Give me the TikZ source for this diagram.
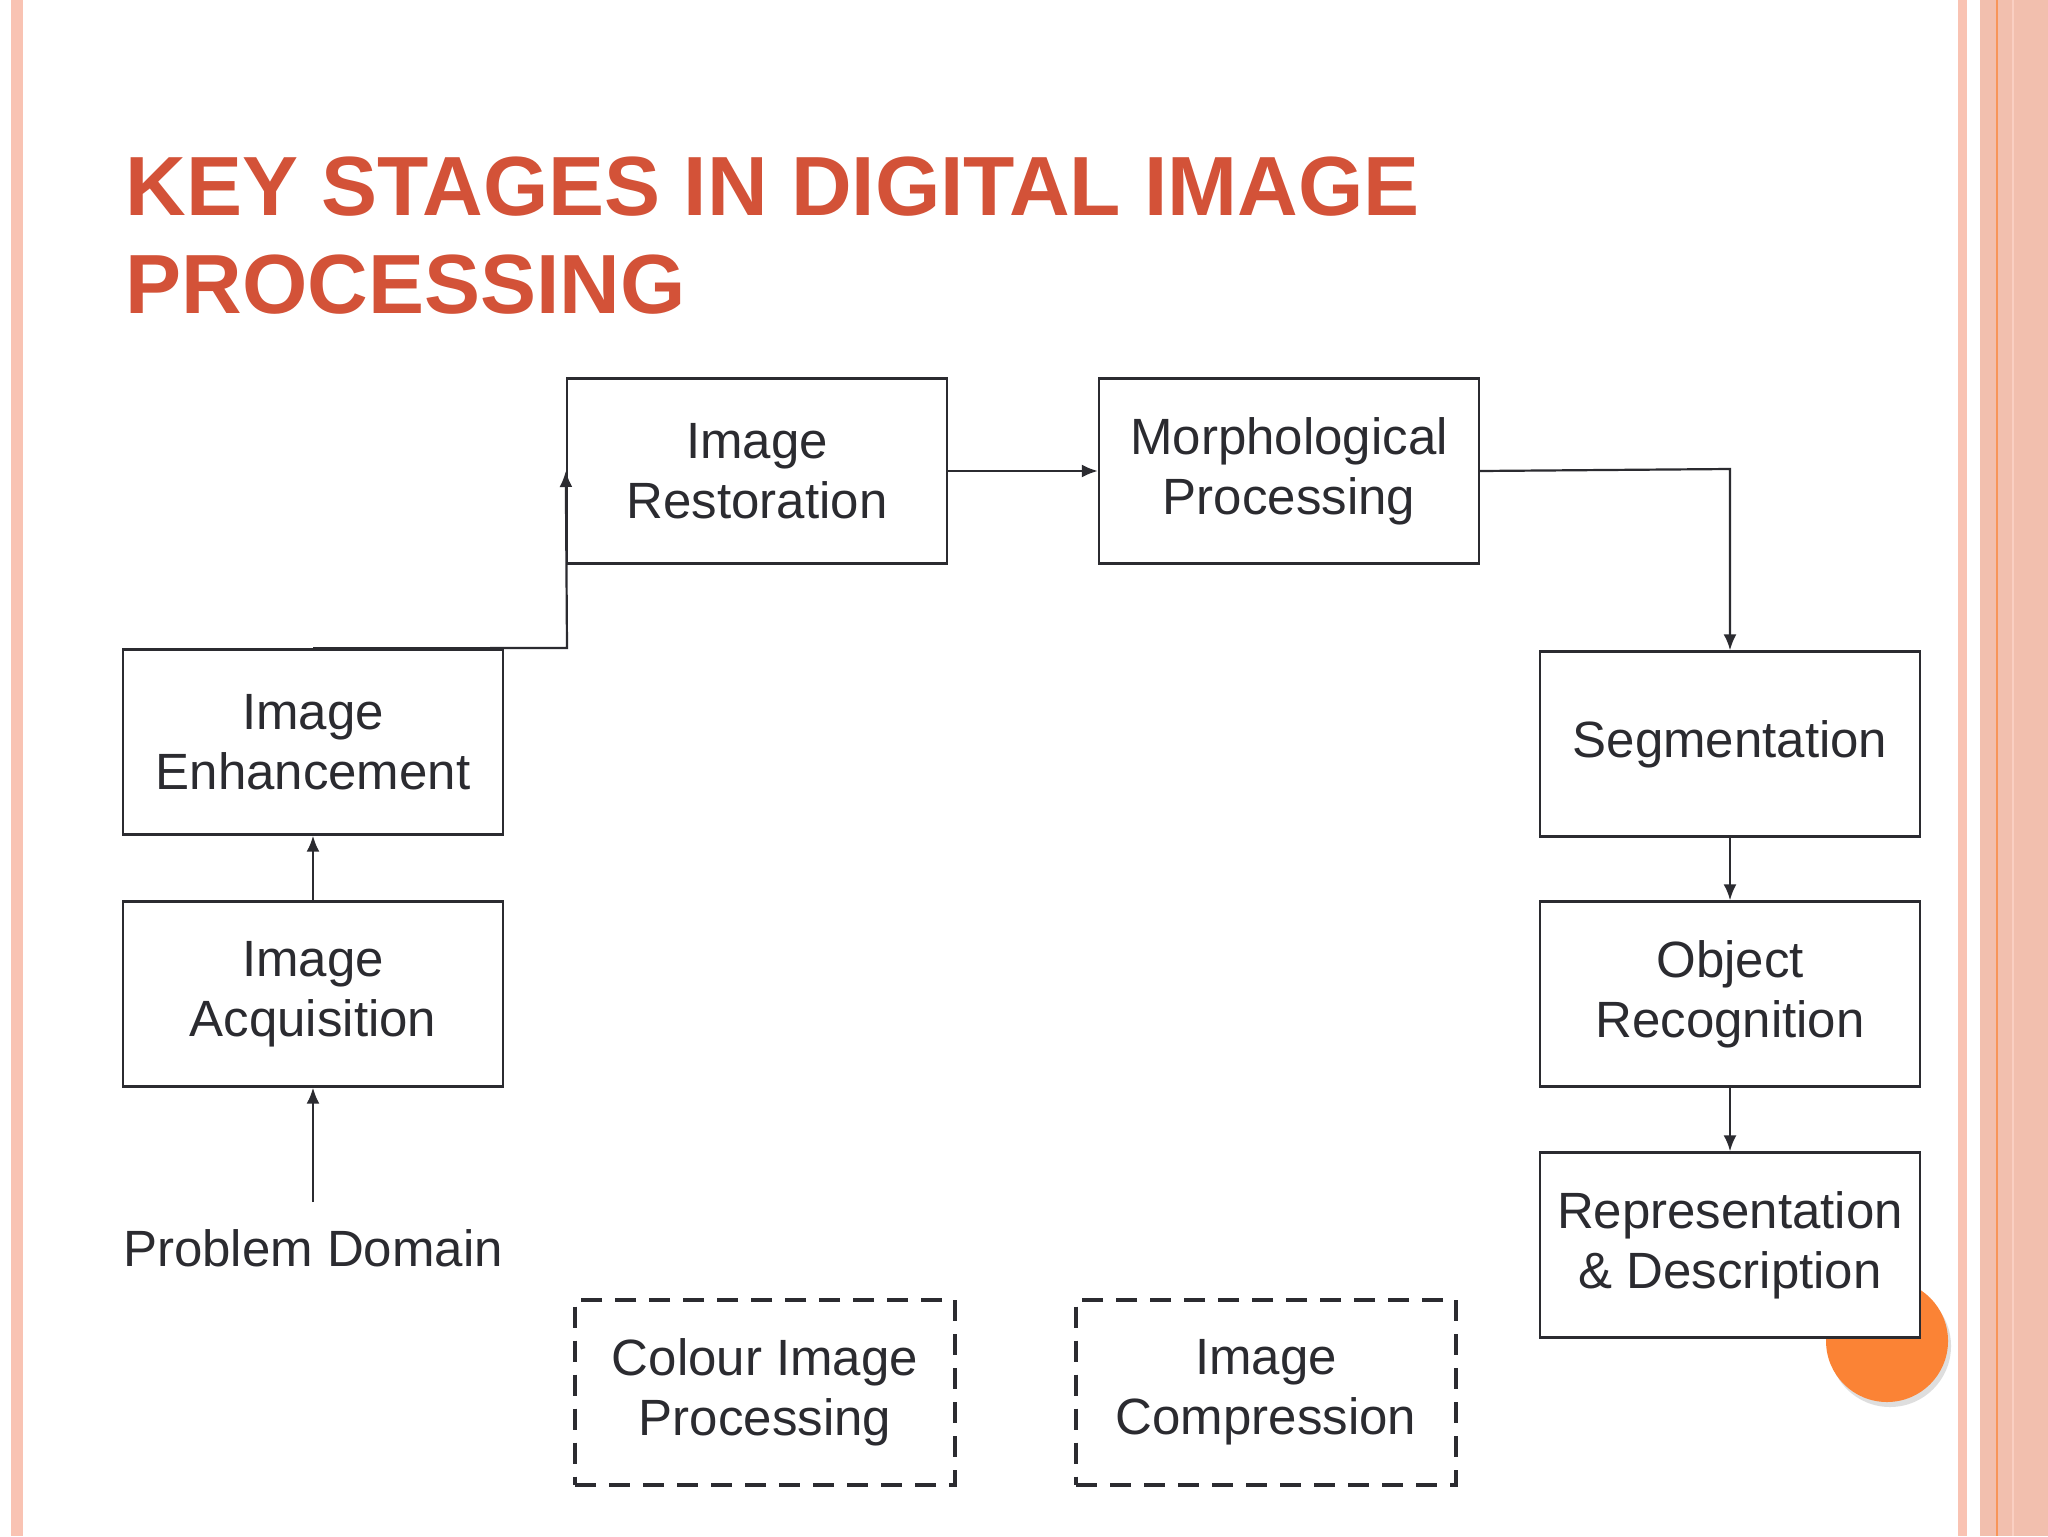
\documentclass[tikz,border=0pt]{standalone}
\usepackage{fontspec}
\setmainfont{Liberation Sans}
\usetikzlibrary{arrows.meta}
\definecolor{salmon}{HTML}{F2BFAE}
\definecolor{salmonL}{HTML}{F9C3B3}
\definecolor{titlec}{HTML}{D35238}
\definecolor{linec}{HTML}{2B2B30}
\definecolor{orangec}{HTML}{FB8335}
\tikzset{
 stagebox/.style={draw=linec,line width=1.2pt,minimum width=190pt,minimum height=92.5pt,align=center,font=\fontsize{25.5}{30}\selectfont,text=linec,inner sep=0pt},
 dashbox/.style={stagebox,line width=2pt,dash pattern=on 10.5pt off 6.5pt},
 conn/.style={draw=linec,line width=1.1pt,-{Latex[length=8pt,width=6.5pt]}},
}
\begin{document}
\begin{tikzpicture}[x=0.5pt,y=-0.5pt]
\useasboundingbox (0,0) rectangle (2048,1536);
\fill[white] (0,0) rectangle (2048,1536);
\fill[salmonL] (11,0) rectangle (23,1536);
\fill[salmonL] (1958,0) rectangle (1967,1536);
\fill[salmon] (1980,0) rectangle (2048,1536);
\draw[orangec!70!salmon,line width=1pt] (1997,0) -- (1997,1536);
\draw[salmonL!80!white,line width=1pt] (2013,0) -- (2013,1536);
\node[anchor=base west,text=titlec,font=\bfseries\fontsize{42}{45}\selectfont,inner sep=0pt] (t1) at (125,215) {KEY STAGES IN DIGITAL IMAGE};
\node[anchor=base west,text=titlec,font=\bfseries\fontsize{42}{45}\selectfont,inner sep=0pt] (t2) at (125,313) {PROCESSING};
\fill[black!25,opacity=0.5] (1890,1346) circle (61);
\fill[orangec] (1887,1341) circle (61);
\node[stagebox] (rest) at (757,471) {Image\\Restoration};
\node[stagebox] (morph) at (1289,471) {Morphological\\Processing};
\node[stagebox,fill=white] (enh) at (313,742) {Image\\Enhancement};
\node[stagebox] (acq) at (313,994) {Image\\Acquisition};
\node[stagebox] (seg) at (1730,744) {Segmentation};
\node[stagebox] (obj) at (1730,994) {Object\\Recognition};
\node[stagebox,fill=white] (rep) at (1730,1245) {Representation\\\& Description};
\node[dashbox] (col) at (765,1392) {Colour Image\\Processing};
\node[dashbox] (comp) at (1266,1392) {Image\\Compression};
\node[font=\fontsize{25.5}{30}\selectfont,text=linec,inner sep=0pt] (pd) at (313,1248) {Problem Domain};
\coordinate (pdtop) at (313,1202);
\coordinate (c1) at (567,648);
\coordinate (c2) at (1730,469);
\draw[conn] (pdtop) -- (acq.south);
\draw[conn] (acq.north) -- (enh.south);
\draw[conn] (enh.north) -- (c1) -- (rest.west);
\draw[conn] (rest.east) -- (morph.west);
\draw[conn] (morph.east) -- (c2) -- (seg.north);
\draw[conn] (seg.south) -- (obj.north);
\draw[conn] (obj.south) -- (rep.north);
\end{tikzpicture}
\end{document}
